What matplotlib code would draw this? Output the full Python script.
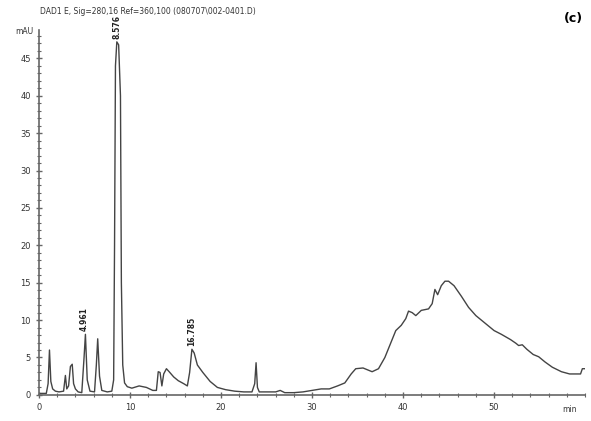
import matplotlib
matplotlib.use("Agg")
import matplotlib.pyplot as plt
from matplotlib.ticker import MultipleLocator

# retention time (min) and signal (mAU)
time_min = [0, 0.8, 1.0, 1.15, 1.3, 1.5, 1.8, 2.2, 2.7, 2.9, 3.05, 3.25, 3.45, 3.65, 3.8, 4.0, 4.3,
            4.7, 4.95, 5.1, 5.3, 5.6, 6.1, 6.3, 6.45, 6.65, 6.9, 7.5, 8.0, 8.2, 8.3, 8.4, 8.55,
            8.75, 8.95, 9.05, 9.2, 9.4, 9.7, 10.2, 11.0, 11.8, 12.5, 12.9, 13.1, 13.3, 13.5, 13.7,
            14.0, 14.3, 14.8, 15.3, 15.9, 16.3, 16.55, 16.8, 17.05, 17.4, 18.0, 18.8, 19.6, 20.5,
            21.5, 22.5, 23.4, 23.7, 23.85, 24.0, 24.2, 25.0, 26.0, 26.5, 27.0, 28.0, 29.0, 30.0,
            31.0, 31.9, 32.8, 33.6, 34.3, 34.8, 35.6, 36.6, 37.3, 38.0, 38.6, 39.2, 39.8, 40.3,
            40.6, 41.0, 41.4, 42.0, 42.8, 43.2, 43.5, 43.8, 44.2, 44.6, 45.0, 45.6, 46.4, 47.2,
            48.0, 49.0, 50.0, 50.8, 51.8, 52.4, 52.7, 53.1, 53.6, 54.3, 54.9, 55.6, 56.4, 57.4,
            58.3, 59.3, 59.5, 59.7, 60.0]
signal_mau = [0.2, 0.2, 1.5, 6.0, 1.8, 0.8, 0.5, 0.4, 0.5, 2.6, 0.8, 1.2, 3.8, 4.1, 1.5, 0.8, 0.4,
              0.3, 5.0, 8.1, 2.0, 0.5, 0.4, 4.0, 7.5, 2.5, 0.6, 0.4, 0.5, 2.0, 20.0, 44.0, 47.2,
              46.8, 40.0, 15.0, 4.0, 1.6, 1.1, 0.9, 1.2, 1.0, 0.6, 0.6, 3.1, 3.0, 1.2, 2.8,
              3.5, 3.1, 2.4, 1.9, 1.5, 1.2, 3.0, 6.1, 5.6, 4.0, 3.0, 1.8, 1.0, 0.7,
              0.5, 0.4, 0.4, 1.5, 4.3, 1.0, 0.4, 0.4, 0.4, 0.6, 0.3, 0.3, 0.4, 0.6,
              0.8, 0.8, 1.2, 1.6, 2.8, 3.5, 3.6, 3.1, 3.5, 5.0, 6.8, 8.6, 9.3, 10.2,
              11.2, 11.0, 10.6, 11.3, 11.5, 12.2, 14.1, 13.4, 14.6, 15.2, 15.2, 14.6, 13.2, 11.7,
              10.6, 9.6, 8.6, 8.1, 7.4, 6.9, 6.6, 6.7, 6.1, 5.4, 5.1, 4.4, 3.7, 3.1,
              2.8, 2.8, 2.8, 3.5, 3.5]

peak_labels = ["4.961", "8.576", "16.785"]
peak_times = [4.961, 8.576, 16.785]
peak_heights = [8.1, 47.2, 6.1]

title = r"DAD1 E, Sig=280,16 Ref=360,100 (080707\002-0401.D)"

fig = plt.figure(figsize=(5.91, 4.21), dpi=100)
ax = fig.add_axes([0.066, 0.062, 0.924, 0.867])
ax.plot(time_min, signal_mau, color="#444444", lw=1.0)

ax.set_xlim(0, 60)
ax.set_ylim(0, 48.8)
for s in ["top", "right"]:
    ax.spines[s].set_visible(False)
for s in ["left", "bottom"]:
    ax.spines[s].set_color("#666666")
    ax.spines[s].set_linewidth(1.2)

ax.xaxis.set_major_locator(MultipleLocator(10))
ax.xaxis.set_minor_locator(MultipleLocator(2))
ax.yaxis.set_major_locator(MultipleLocator(5))
ax.yaxis.set_minor_locator(MultipleLocator(1))
ax.tick_params(axis="both", which="both", direction="inout", color="#666666", labelsize=6,
               labelcolor="#333333")
ax.tick_params(axis="both", which="major", length=5, width=1)
ax.tick_params(axis="both", which="minor", length=3, width=0.8)
ax.set_yticks([0, 5, 10, 15, 20, 25, 30, 35, 40, 45])
ax.set_xticks([0, 10, 20, 30, 40, 50])

ax.text(-0.6, 48.6, "mAU", fontsize=5.5, ha="right", va="center", color="#333333")
ax.text(58.3, -1.3, "min", fontsize=5.5, ha="center", va="top", color="#333333")

for lab, t, h in zip(peak_labels, peak_times, peak_heights):
    ax.text(t, h + 0.4, lab, rotation=90, fontsize=5.5, ha="center", va="bottom",
            fontweight="bold", color="#222222")

fig.text(0.068, 0.972, title, fontsize=5.5, ha="left", va="center", color="#333333")
fig.text(0.97, 0.955, "(c)", fontsize=9, ha="center", va="center", fontweight="bold")

fig.savefig("out.png", dpi=100)
